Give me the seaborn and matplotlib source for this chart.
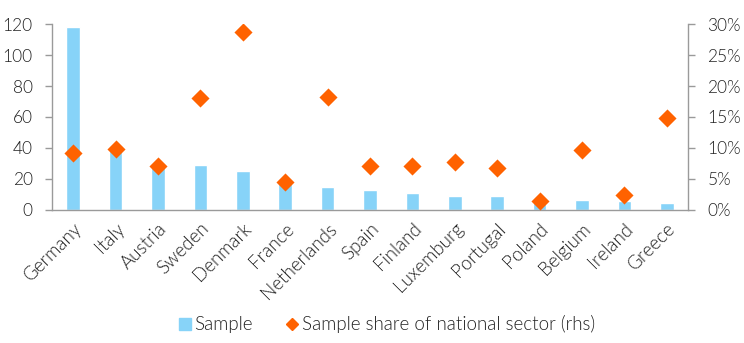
import matplotlib
matplotlib.use("Agg")
import matplotlib.pyplot as plt
from matplotlib.ticker import PercentFormatter, MultipleLocator
from matplotlib.lines import Line2D
import seaborn as sns
import pandas as pd

countries = ["Germany", "Italy", "Austria", "Sweden", "Denmark", "France",
             "Netherlands", "Spain", "Finland", "Luxemburg", "Portugal",
             "Poland", "Belgium", "Ireland", "Greece"]
sample = [118, 41, 28, 29, 25, 18, 15, 13, 11, 9, 9, 7, 6.5, 6, 4.7]
share = [0.092, 0.098, 0.071, 0.181, 0.287, 0.045, 0.182, 0.071,
         0.071, 0.077, 0.067, 0.0145, 0.097, 0.024, 0.148]

BLUE = "#87D3F8"
ORANGE = "#FF6200"
AXIS = "#9a9a9a"
TEXT = "#222222"

sns.set_style("white")
plt.rcParams["font.family"] = ["Lato", "DejaVu Sans"]
plt.rcParams["font.weight"] = 300

df = pd.DataFrame({"country": countries, "sample": sample, "share": share})

fig = plt.figure(figsize=(7.44, 3.43), dpi=100)
ax = fig.add_axes([0.0699, 0.3878, 0.8548, 0.5422])
sns.barplot(data=df, x="country", y="sample", color=BLUE, width=0.32,
            saturation=1, ax=ax)
ax.set_xlim(-0.5, len(countries) - 0.5)
ax.set_ylim(0, 120)
ax.yaxis.set_major_locator(MultipleLocator(20))

ax2 = ax.twinx()
sns.scatterplot(data=df, x="country", y="share", marker="D", color=ORANGE,
                s=85, linewidth=0, ax=ax2, zorder=5)
ax2.set_ylim(0, 0.30)
ax2.yaxis.set_major_locator(MultipleLocator(0.05))
ax2.yaxis.set_major_formatter(PercentFormatter(1.0, decimals=0))
ax.set_xlim(-0.5, len(countries) - 0.5)

for a in (ax, ax2):
    a.set_xlabel("")
    a.set_ylabel("")
    for s in a.spines.values():
        s.set_color(AXIS)
        s.set_linewidth(1.0)
    a.spines["top"].set_visible(False)

ax.spines["right"].set_visible(False)
ax2.spines["left"].set_visible(False)
ax2.spines["bottom"].set_visible(False)

# category boundary ticks on the x-axis
ax.set_xticks([i - 0.5 for i in range(len(countries) + 1)], minor=False)
ax.set_xticklabels([])
ax.set_xticks(range(len(countries)), minor=True)
ax.set_xticklabels(countries, minor=True, rotation=45, ha="right",
                   rotation_mode="anchor", fontsize=13.5, color=TEXT)
ax.tick_params(axis="x", which="major", length=5, width=1, color=AXIS,
               direction="out")
ax.tick_params(axis="x", which="minor", length=0, pad=7)
ax.tick_params(axis="y", length=5, width=1, color=AXIS, direction="out",
               labelsize=12.5, labelcolor=TEXT, left=True, pad=9)
ax2.tick_params(axis="y", length=5, width=1, color=AXIS, direction="out",
                labelsize=12.5, labelcolor=TEXT, right=True, pad=9)

handles = [
    Line2D([], [], marker="s", linestyle="none", markersize=8,
           markerfacecolor=BLUE, markeredgecolor=BLUE, label="Sample"),
    Line2D([], [], marker="D", linestyle="none", markersize=6,
           markerfacecolor=ORANGE, markeredgecolor=ORANGE,
           label="Sample share of national sector (rhs)"),
]
fig.legend(handles=handles, loc="center", bbox_to_anchor=(0.518, 0.055),
           ncol=2, frameon=False, fontsize=13.5, handletextpad=0.0,
           columnspacing=1.6, handlelength=1.0, labelcolor=TEXT)

fig.savefig("out.png", dpi=100)
